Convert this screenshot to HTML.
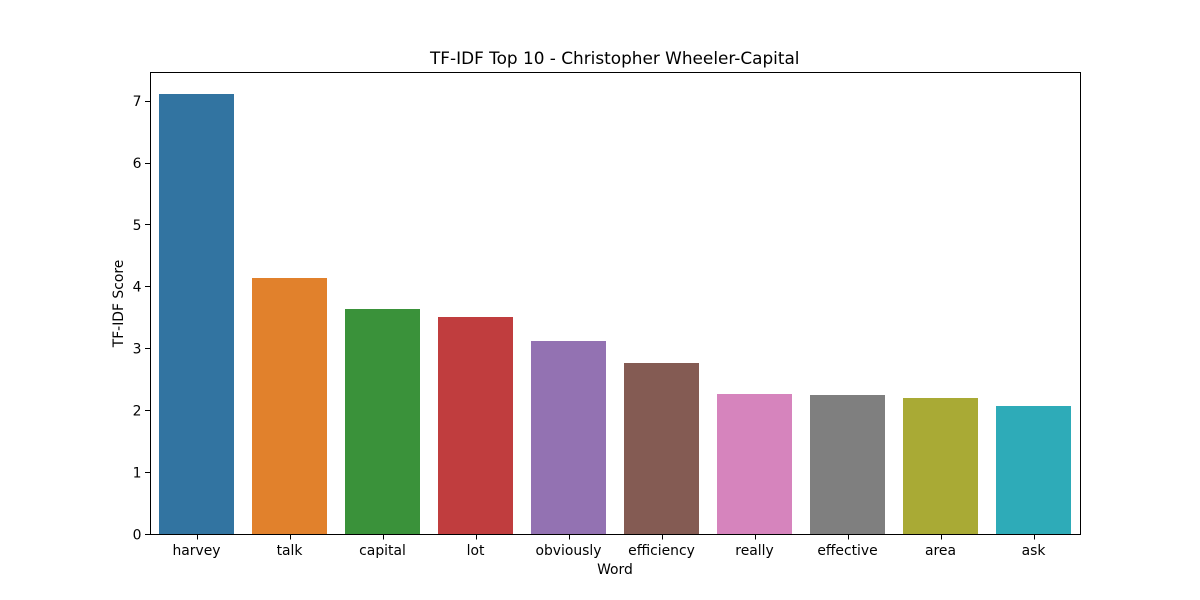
<!DOCTYPE html>
<html>
<head>
<meta charset="utf-8">
<title>TF-IDF Top 10 - Christopher Wheeler-Capital</title>
<style>
html,body{margin:0;padding:0;background:#fff;width:1200px;height:600px;overflow:hidden}
svg{display:block}
text{font-family:"DejaVu Sans",sans-serif;fill:#000}
</style>
</head>
<body>
<svg id="chart" width="1200" height="600" viewBox="0 0 1200 600" xmlns="http://www.w3.org/2000/svg">
<rect x="0" y="0" width="1200" height="600" fill="#ffffff"/>
<text x="430" y="64" font-size="16.67" textLength="369.5" lengthAdjust="spacingAndGlyphs">TF-IDF Top 10 - Christopher Wheeler-Capital</text>
<text x="615" y="574" font-size="13.9" text-anchor="middle">Word</text>
<text transform="translate(123,303.5) rotate(-90)" font-size="13.9" text-anchor="middle">TF-IDF Score</text>
<g id="bars"></g>
<g id="ticks"></g>
<rect x="150.5" y="72.5" width="930" height="462" fill="none" stroke="#000" stroke-width="1.11" shape-rendering="crispEdges"/>
</svg>
<script>
const categories = ["harvey","talk","capital","lot","obviously","efficiency","really","effective","area","ask"];
const scores = [7.108,4.136,3.635,3.506,3.118,2.763,2.262,2.246,2.197,2.068];
const colors = ["#3274a1","#e1812c","#3a923a","#c03d3e","#9372b2","#845b53","#d684bd","#7f7f7f","#a9aa35","#2eabb8"];
const yTickValues = [0,1,2,3,4,5,6,7];

const NS = "http://www.w3.org/2000/svg";
const plotLeft = 150, plotRight = 1080, plotTop = 72, plotBottom = 534;
const yMax = Math.max(...scores) * 1.05;
const slot = (plotRight - plotLeft) / categories.length;
function xScale(i) { return plotLeft + slot * (i + 0.5); }
function yScale(v) { return plotBottom - (v / yMax) * (plotBottom - plotTop); }
function make(tag, attrs) {
  const el = document.createElementNS(NS, tag);
  for (const k in attrs) el.setAttribute(k, attrs[k]);
  return el;
}
const barsG = document.getElementById("bars");
const ticksG = document.getElementById("ticks");

categories.forEach(function (cat, i) {
  const left = Math.round(xScale(i) - slot * 0.4);
  const right = Math.round(xScale(i) + slot * 0.4);
  const top = Math.round(yScale(scores[i]));
  const bar = make("rect", {x: left, y: top, width: right - left, height: plotBottom - top, fill: colors[i % colors.length]});
  
  
  barsG.appendChild(bar);

  const tx = Math.round(xScale(i)) + 0.5;
  const tick = make("line", {x1: tx, x2: tx, y1: plotBottom, y2: plotBottom + 5.4, stroke: "#000", "stroke-width": 1.11, "shape-rendering": "crispEdges"});
  
  
  ticksG.appendChild(tick);

  const label = make("text", {x: xScale(i), y: 555, "font-size": 13.9, "text-anchor": "middle"});
  label.textContent = cat;
  
  
  ticksG.appendChild(label);
});

yTickValues.forEach(function (v) {
  const ty = Math.round(yScale(v)) + 0.5;
  const tick = make("line", {x1: plotLeft - 4.9, x2: plotLeft, y1: ty, y2: ty, stroke: "#000", "stroke-width": 1.11, "shape-rendering": "crispEdges"});
  
  
  ticksG.appendChild(tick);

  const label = make("text", {x: plotLeft - 8.5, y: yScale(v) + 5.3, "font-size": 13.9, "text-anchor": "end"});
  label.textContent = v;
  
  
  ticksG.appendChild(label);
});
</script>
</body>
</html>
